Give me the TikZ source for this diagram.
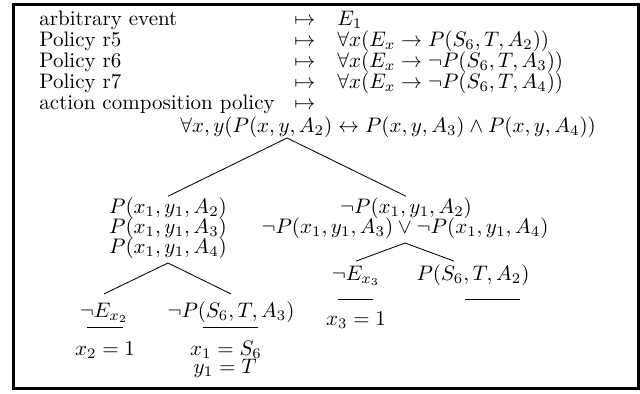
\documentclass[tikz,border=0pt]{standalone}
\usepackage{amsmath,amssymb}
\usetikzlibrary{positioning}
\tikzset{lbl/.style={anchor=west,inner sep=0pt,text height=6.8pt,text depth=2pt},
  fm/.style={inner sep=0pt,text height=6.8pt,text depth=2pt},
  leg/.style={line width=0.4pt},
  bar/.style={line width=0.4pt}}

\begin{document}
\begin{tikzpicture}[x=0.476pt,y=-0.476pt]
\useasboundingbox (0,0) rectangle (640,394);
\draw[line width=1.45pt] (13.5,4.5) rectangle (638.5,388.5);
% mapping list
\node[lbl] (ev) at (39,20) {arbitrary event}; \node[fm] (m1) at (305,20) {$\mapsto$}; \node[lbl] (f1) at (337,20) {$E_1$};
\node[lbl] (r5) at (39,41) {Policy r5}; \node[fm] (m2) at (305,41) {$\mapsto$}; \node[lbl] (f2) at (337,41) {$\forall x(E_x\rightarrow P(S_6,T,A_2))$};
\node[lbl] (r6) at (39,62) {Policy r6}; \node[fm] (m3) at (305,62) {$\mapsto$}; \node[lbl] (f3) at (337,62) {$\forall x(E_x\rightarrow\neg P(S_6,T,A_3))$};
\node[lbl] (r7) at (39,83) {Policy r7}; \node[fm] (m4) at (305,83) {$\mapsto$}; \node[lbl] (f4) at (337,83) {$\forall x(E_x\rightarrow\neg P(S_6,T,A_4))$};
\node[lbl] (acp) at (39,104) {action composition policy}; \node[fm] (m5) at (305,104) {$\mapsto$};
\node[lbl] (acf) at (180,127) {$\forall x,y(P(x,y,A_2)\leftrightarrow P(x,y,A_3)\wedge P(x,y,A_4))$};
% tableau
\coordinate (root) at (287,138);
\node[fm] (pl1) at (168,208) {$P(x_1,y_1,A_2)$};
\node[fm] (pl2) at (168,228) {$P(x_1,y_1,A_3)$};
\node[fm] (pl3) at (168,248) {$P(x_1,y_1,A_4)$};
\node[fm] (nr1) at (406,208) {$\neg P(x_1,y_1,A_2)$};
\node[fm] (nr2) at (405,228) {$\neg P(x_1,y_1,A_3)\vee\neg P(x_1,y_1,A_4)$};
\draw[leg] (root) -- ([yshift=1pt]pl1.north);
\draw[leg] (root) -- ([yshift=1pt]nr1.north);
\coordinate (ls) at (168,263);
\node[fm] (ne2) at (104,312) {$\neg E_{x_2}$};
\node[fm] (pa3) at (231,312) {$\neg P(S_6,T,A_3)$};
\draw[leg] (ls) -- ([yshift=4pt]ne2.north);
\draw[leg] (ls) -- ([yshift=4pt]pa3.north);
\coordinate (rs) at (405,243);
\node[fm] (ne3) at (356,275) {$\neg E_{x_3}$};
\node[fm] (ps2) at (473,275) {$P(S_6,T,A_2)$};
\draw[leg] (rs) -- ([yshift=2pt]ne3.north);
\draw[leg] (rs) -- ([xshift=-9pt,yshift=2pt]ps2.north);
% closures
\draw[bar] (87,327) -- (123,327);
\draw[bar] (203,327) -- (258,327);
\draw[bar] (338,299) -- (373,299);
\draw[bar] (465,299) -- (520,299);
\node[fm] (s2) at (105,350) {$x_2=1$};
\node[fm] (s1) at (226,350) {$x_1=S_6$};
\node[fm] (s1b) at (225,368) {$y_1=T$};
\node[fm] (s3) at (356,320) {$x_3=1$};
\end{tikzpicture}
\end{document}
